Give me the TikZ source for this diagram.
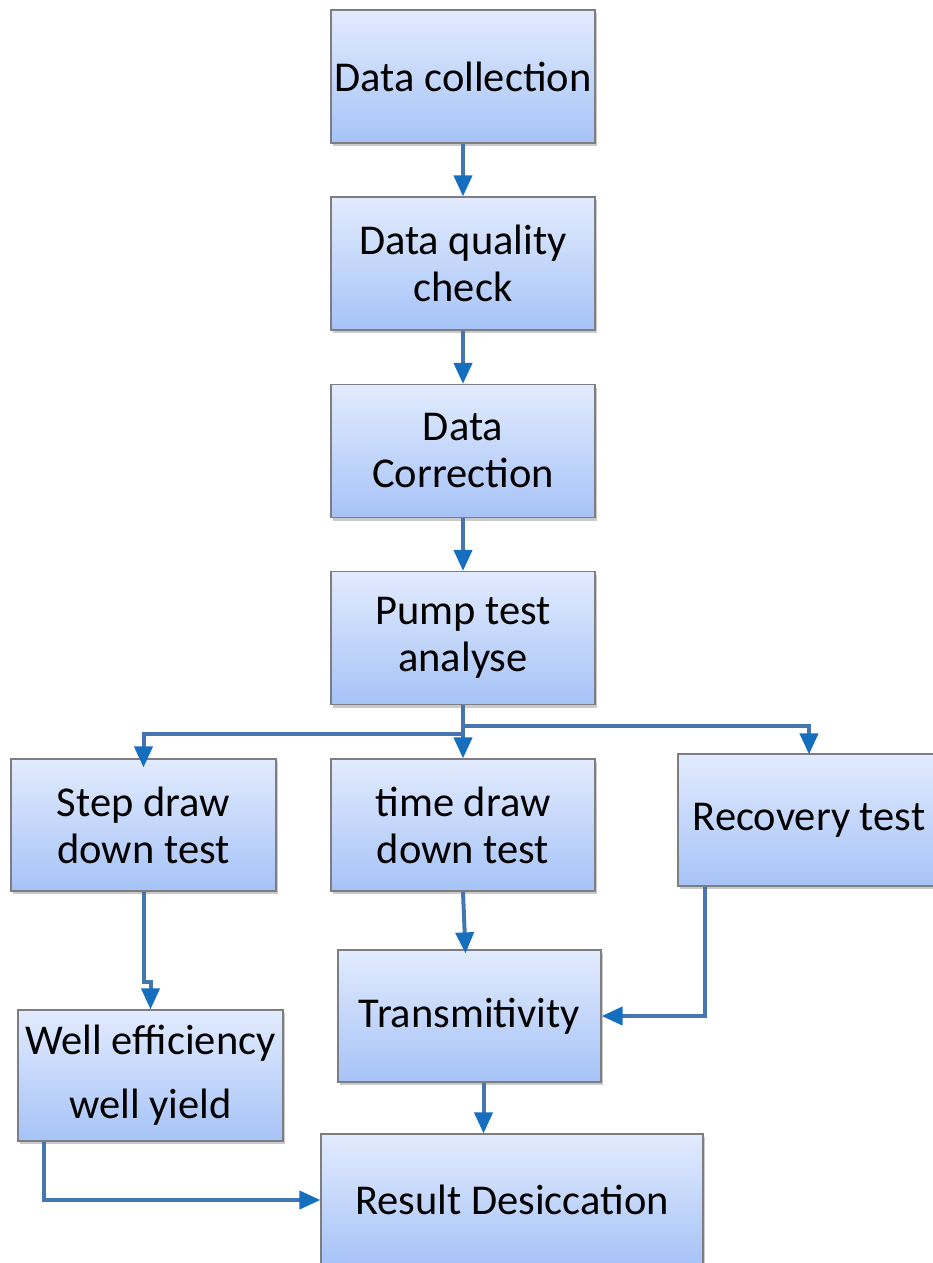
\documentclass[tikz,border=0pt]{standalone}
\usepackage{fontspec}
\setmainfont{Carlito}
\usetikzlibrary{arrows.meta,shadows}
\definecolor{boxtop}{RGB}{226,235,254}
\definecolor{boxbot}{RGB}{166,195,247}
\definecolor{boxline}{RGB}{125,125,130}
\definecolor{linkblue}{RGB}{70,118,176}
\definecolor{tipblue}{RGB}{22,110,190}
\tikzset{
  box/.style={draw=boxline, line width=1.2pt, top color=boxtop, bottom color=boxbot,
    minimum width=264pt, minimum height=133pt, inner sep=2pt, align=center,
    font=\fontsize{42.5}{47}\selectfont,
    drop shadow={shadow xshift=2pt, shadow yshift=-3pt, opacity=0.35, fill=black!60}},
  link/.style={draw=linkblue, line width=4pt,
    -{Triangle[length=21pt,width=18pt,color=tipblue]}},
}
\begin{document}
\begin{tikzpicture}[x=1pt,y=-1pt]
\useasboundingbox (0,0) rectangle (933,1263);
\node[box] (dc) at (463,76.5) {Data collection};
\node[box] (dq) at (463,263.5) {Data quality\\check};
\node[box] (dcor) at (463,451) {Data\\Correction};
\node[box] (pump) at (463,638) {Pump test\\analyse};
\node[box, minimum width=265pt, minimum height=132pt] (step) at (143.5,825) {Step draw\\down test};
\node[box, minimum height=132pt] (time) at (463,825) {time draw\\down test};
\node[box, minimum width=262pt, minimum height=132pt] (rec) at (809,820) {Recovery test};
\node[box, minimum width=263pt, minimum height=132pt] (trans) at (469.5,1016) {Transmitivity};
\node[box, minimum width=265pt, minimum height=131pt, font=\fontsize{42.5}{64}\selectfont] (well) at (150.5,1075.5) {Well efficiency\\well yield};
\node[box, minimum width=382pt, minimum height=132pt] (res) at (512,1200) {Result Desiccation};

\draw[link] (dc.south) -- (dq.north);
\draw[link] (dq.south) -- (dcor.north);
\draw[link] (dcor.south) -- (pump.north);
\draw[link] (pump.south) -- (time.north);
\draw[link] (pump.south) -- ++(0,29) -| ([yshift=-9pt]step.north);
\draw[link] (pump.south) -- ++(0,21) -| ([yshift=-1pt]rec.north);
\draw[link] (step.south) -- ++(0,90) -| (well.north);
\draw[link] (time.south) -- ([xshift=-4pt,yshift=-4pt]trans.north);
\coordinate (r1) at ([xshift=-104pt]rec.south);
\draw[link] (r1) |- (trans.east);
\coordinate (t1) at ([xshift=14pt]trans.south);
\draw[link] (t1) -- (t1 |- res.north);
\coordinate (w1) at ([xshift=-106.5pt]well.south);
\draw[link] (w1) |- (res.west);
\end{tikzpicture}
\end{document}
